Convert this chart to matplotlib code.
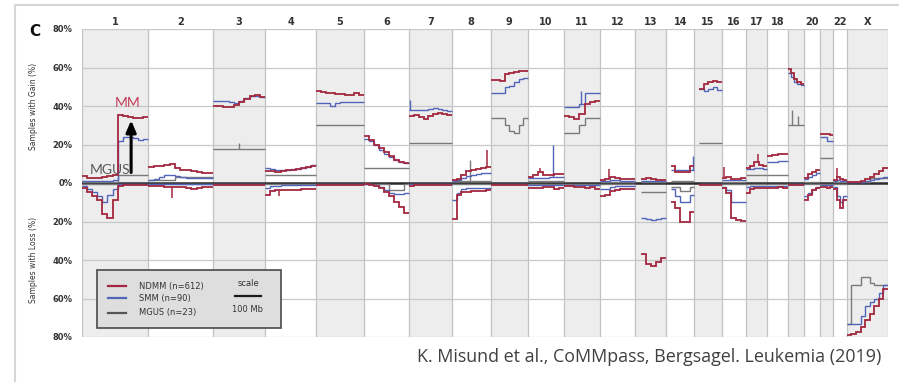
import numpy as np
import matplotlib
matplotlib.use("Agg")
import matplotlib.pyplot as plt
from matplotlib.patches import Rectangle
from matplotlib.lines import Line2D
from matplotlib.transforms import blended_transform_factory

# Chromosome sizes (hg19, Mb)
CHROM_NAMES = ['1', '2', '3', '4', '5', '6', '7', '8', '9', '10', '11', '12',
               '13', '14', '15', '16', '17', '18', '19', '20', '21', '22', 'X']
CHROM_LENGTHS_MB = [249.3, 243.2, 198.0, 191.2, 180.9, 171.1, 159.1, 146.4, 141.2,
                    135.5, 135.0, 133.9, 115.2, 107.3, 102.5, 90.4, 81.2, 78.1,
                    59.1, 63.0, 48.1, 51.3, 155.3]
TOP_LABELS = ['1', '2', '3', '4', '5', '6', '7', '8', '9', '10', '11', '12',
              '13', '14', '15', '16', '17', '18', '20', '22', 'X']

# Percent of samples with gain, evenly spaced segments along each chromosome
NDMM_GAIN = [
    [3.5, 2.5, 2.5, 2.5, 3, 3.5, 4, 35.5, 35, 34.5, 34, 34, 34.5],
    [8.5, 9, 9, 9.5, 10, 8, 7, 6.5, 6, 5.5, 5, 5],
    [40, 40, 39.5, 39.5, 40.5, 42, 43.5, 45, 45.5, 44.5],
    [6, 6, 5.5, 6, 6.5, 7, 7.5, 8, 8.5, 9],
    [48, 47.5, 47, 46.5, 46, 46, 45.5, 45.5, 46.5, 45.5],
    [24.5, 22.5, 20, 18, 16, 14, 12, 11, 10.5],
    [35, 35.5, 34.5, 33, 35, 36, 36.5, 36, 35.5],
    [1.5, 2, 4, 6, 7, 7.5, 8, 8.5],
    [53.5, 53.5, 53, 56.5, 57, 57.5, 58, 58],
    [3, 4, 5.5, 4, 4, 4.5, 4.5],
    [35, 34.5, 33.5, 36, 41, 42, 42.5],
    [1.5, 2, 3, 2.5, 2, 2, 2],
    [None, 2, 2.5, 2, 1.5, 1.5],
    [None, 9, 5.5, 5.5, 5.5, 9],
    [None, 49, 51.5, 52.5, 53, 52.5],
    [2.5, 3, 2, 2, 2.5],
    [8, 9, 11, 9.5, 9],
    [14, 14.5, 15, 15],
    [59, 57, 54, 52.5, 51.5],
    [2.5, 4.5, 5.5, 7],
    [25.5, 25.5, 25.5, 25],
    [1.5, 3, 2, 1.5],
    [0.5, 0.5, 0.5, 1, 2, 3, 4.5, 6, 8],
]
SMM_GAIN = [
    [1, 1, 1, 1, 1, 1, 1.5, 22, 24, 24, 23.5, 22.5, 23],
    [1.5, 2, 3, 4, 4, 3.5, 3, 2.5, 2.5, 2.5, 2.5, 2.5],
    [42.5, 42.5, 42.5, 42, 41.5, 42.5, 44, 45, 45, 44.5],
    [8, 7.5, 7, 7, 7, 7.5, 7.5, 8, 8.5, 9.5],
    [41.5, 41.5, 41.5, 40, 41.5, 42, 42, 42, 42, 42],
    [23, 22, 19.5, 17, 15, 13.5, 12, 11, 10.5],
    [38, 38, 38, 38, 38.5, 39, 38.5, 38, 37.5],
    [1, 1.5, 2.5, 3.5, 4, 4.5, 5, 5],
    [47, 47, 46.5, 50, 50.5, 52.5, 54, 54.5],
    [2.5, 2.5, 2.5, 2.5, 3, 3, 3],
    [39.5, 39.5, 39.5, 41, 47, 47, 47],
    [1, 1, 1.5, 1.5, 1, 1, 1],
    [None, 1, 1, 1, 1, 1],
    [None, 7, 6.5, 6.5, 6.5, 7],
    [None, 49, 48, 49, 50, 48.5],
    [1.5, 1.5, 1.5, 1.5, 1.5],
    [7.5, 7.5, 8, 8, 7.5],
    [11, 11, 11.5, 11.5],
    [57, 55, 52.5, 51.5, 51],
    [2, 3, 4, 5],
    [24, 24, 22, 22],
    [1, 1.5, 1, 1],
    [0.5, 0.5, 0.5, 0.5, 1, 1.5, 2, 2.5, 3],
]
MGUS_GAIN = [
    [0.5, 0.5, 0.5, 0.5, 0.5, 0.5, 0.5, 4, 4, 4, 4, 4, 4],
    [1.5, 1.5, 1.5, 1.5, 1.5, 3, 3, 3, 3, 3, 3, 3],
    [17.5],
    [4],
    [30],
    [8],
    [21],
    [1],
    [34, 34, 34, 30, 27, 26, 30, 34],
    [1],
    [26, 26, 26, 30, 34, 34, 34],
    [0.5],
    [None, 0.5, 0.5, 0.5, 0.5, 0.5],
    [None, 1, 1, 1, 1, 1],
    [None, 21, 21, 21, 21, 21],
    [0.5],
    [4],
    [4],
    [30],
    [0.5],
    [13],
    [0.5],
    [0.5, 0.5, 0.5, 0.5, 0.5, 2.5, 2.5, 2.5, 2.5],
]

# Percent of samples with loss
NDMM_LOSS = [
    [2.5, 4.5, 6.5, 9, 16, 18, 9, 1.5, 1, 1, 1, 1, 1],
    [1.5, 1.5, 1.5, 2, 2, 2, 2, 2.5, 3, 2.5, 2, 2],
    [1],
    [6, 4, 3.5, 3.5, 3.5, 3.5, 3.5, 3, 3, 3],
    [1],
    [0.5, 1, 1.5, 2.5, 4.5, 7, 10, 12.5, 15.5],
    [1.5, 1, 1, 1, 1, 1, 1, 1, 1],
    [18.5, 6, 4.5, 4.5, 4, 4, 4, 3.5],
    [1],
    [2.5, 2.5, 2.5, 2, 2, 3, 2.5],
    [1.5, 1.5, 2, 2, 2.5, 2, 3],
    [7, 6, 4, 3.5, 3, 3, 3],
    [None, 37, 42, 43, 41, 39],
    [None, 10, 13, 20, 20, 15],
    [None, 1, 1, 1, 1, 1],
    [2.5, 5, 18, 19, 19.5],
    [5, 3, 2.5, 2.5, 2.5],
    [2.5, 2.5, 2, 2.5],
    [1],
    [9, 6, 3.5, 2.5],
    [2, 2, 2.5, 2],
    [3, 9, 13, 9],
    [79, 78.5, 77.5, 75, 71, 68, 64, 60, 55],
]
SMM_LOSS = [
    [1.5, 3, 4.5, 7, 10, 6, 3, 0.5, 0.5, 0.5, 0.5, 0.5, 0.5],
    [0.5],
    [0.5],
    [2.5, 1.5, 1.5, 1, 1, 1, 1, 1, 1, 1],
    [0.5],
    [0.5, 0.5, 1, 2, 3.5, 5, 5.5, 5.5, 5],
    [0.5],
    [9, 5, 3, 2.5, 2.5, 2.5, 2.5, 2.5],
    [0.5],
    [1],
    [1],
    [3, 3, 2, 1.5, 1.5, 1.5, 1.5],
    [None, 18, 18.5, 19, 18.5, 18],
    [None, 3, 7, 10, 10, 6],
    [None, 0.5, 0.5, 0.5, 0.5, 0.5],
    [2, 3.5, 10, 10, 10],
    [2, 1.5, 1.5, 1.5, 1.5],
    [1.5],
    [0.5],
    [7, 5, 3, 2],
    [1],
    [2, 7, 10, 7],
    [73, 73, 73, 69, 64, 62, 60, 57, 53],
]
MGUS_LOSS = [
    [0.3], [0.3], [0.3], [0.3], [0.3],
    [0.3, 0.3, 0.3, 0.3, 0.3, 3.5, 3.5, 3.5, 0.3],
    [0.3], [0.3], [0.3], [0.3], [0.3], [0.3],
    [None, 4.5, 4.5, 4.5, 4.5, 4.5],
    [None, 2, 2, 4, 4, 2],
    [None, 0.3, 0.3, 0.3, 0.3, 0.3],
    [0.3], [0.3], [0.3], [0.3], [0.3], [0.3], [0.3],
    [73, 53, 53, 49, 49, 52, 53, 53, 53],
]

# Narrow focal peaks: (chromosome, position in Mb, percent)
NDMM_GAIN_PEAKS = [('8', 132, 17), ('10', 45, 8), ('12', 34, 7.5),
                   ('16', 8, 8.5), ('17', 45, 15), ('22', 15, 8)]
SMM_GAIN_PEAKS = [('7', 3, 43), ('10', 94, 20), ('11', 64, 48), ('14', 101, 14)]
MGUS_GAIN_PEAKS = [('3', 98, 21), ('8', 68, 12), ('19', 15, 38), ('19', 38, 35)]
NDMM_LOSS_PEAKS = [('2', 90, 8), ('4', 53, 7)]

COL_NDMM = '#a3283f'
COL_SMM = '#5064b8'
COL_MGUS = '#7a7a7a'

starts = np.concatenate([[0], np.cumsum(CHROM_LENGTHS_MB)[:-1]])
genome_len = float(np.sum(CHROM_LENGTHS_MB))

fig = plt.figure(figsize=(8.99, 3.82), dpi=100)
ax = fig.add_axes([82 / 899, 45 / 382, 806 / 899, 308 / 382])
ax.set_xlim(0, genome_len)
ax.set_ylim(-80, 80)

# alternating chromosome shading and boundaries
for i, (s, L) in enumerate(zip(starts, CHROM_LENGTHS_MB)):
    if i % 2 == 0:
        ax.axvspan(s, s + L, color='#ededed', lw=0, zorder=0)
for b in list(starts) + [genome_len]:
    ax.axvline(b, color='#c2c2c2', lw=0.9, zorder=1)
for yv in [-80, -60, -40, -20, 20, 40, 60, 80]:
    ax.axhline(yv, color='#c8c8c8', lw=0.9, zorder=1)
ax.axhline(0, color='#2b2b2b', lw=1.8, zorder=2)


def to_array(vals):
    return np.array([np.nan if v is None else v for v in vals], dtype=float)


def draw_series(series, sign, color, lw, z):
    for s, L, vals in zip(starts, CHROM_LENGTHS_MB, series):
        v = to_array(vals)
        edges = np.linspace(s, s + L, len(v) + 1)
        ok = np.isfinite(v)
        i = 0
        while i < len(v):
            if not ok[i]:
                i += 1
                continue
            j = i
            while j < len(v) and ok[j]:
                j += 1
            ax.stairs(sign * v[i:j], edges[i:j + 1], baseline=None,
                      color=color, lw=lw, zorder=z)
            i = j


def draw_peaks(series, peaks, sign, color, lw, z):
    for name, pos, val in peaks:
        k = CHROM_NAMES.index(name)
        v = to_array(series[k])
        idx = min(int(pos / CHROM_LENGTHS_MB[k] * len(v)), len(v) - 1)
        base = v[idx] if np.isfinite(v[idx]) else 0
        x = starts[k] + pos
        ax.plot([x, x], [sign * base, sign * val], color=color, lw=lw,
                zorder=z, solid_capstyle='butt')


draw_series(MGUS_GAIN, 1, COL_MGUS, 1.0, 3)
draw_series(MGUS_LOSS, -1, COL_MGUS, 1.0, 3)
draw_peaks(MGUS_GAIN, MGUS_GAIN_PEAKS, 1, COL_MGUS, 1.0, 3)
draw_series(SMM_GAIN, 1, COL_SMM, 1.0, 4)
draw_series(SMM_LOSS, -1, COL_SMM, 1.0, 4)
draw_peaks(SMM_GAIN, SMM_GAIN_PEAKS, 1, COL_SMM, 1.0, 4)
draw_series(NDMM_GAIN, 1, COL_NDMM, 1.3, 5)
draw_series(NDMM_LOSS, -1, COL_NDMM, 1.3, 5)
draw_peaks(NDMM_GAIN, NDMM_GAIN_PEAKS, 1, COL_NDMM, 1.1, 5)
draw_peaks(NDMM_LOSS, NDMM_LOSS_PEAKS, -1, COL_NDMM, 1.1, 5)

# axes decoration
for sp in ax.spines.values():
    sp.set_visible(False)
ax.set_xticks([])
yt = [-80, -60, -40, -20, 0, 20, 40, 60, 80]
ax.set_yticks(yt)
ax.set_yticklabels([f'{abs(v)}%' for v in yt], fontsize=6, color='#333333',
                   fontweight='bold')
ax.tick_params(axis='y', length=0, pad=7)

tb = blended_transform_factory(ax.transData, ax.transAxes)
for name in TOP_LABELS:
    k = CHROM_NAMES.index(name)
    ax.text(starts[k] + CHROM_LENGTHS_MB[k] / 2, 1.023, name, transform=tb,
            ha='center', va='center', fontsize=7, fontweight='bold',
            color='#333333')

fig.text(33 / 899, 1 - 106 / 382, 'Samples with Gain (%)', rotation=90,
         ha='center', va='center', fontsize=5.5, color='#333333')
fig.text(33 / 899, 1 - 260 / 382, 'Samples with Loss (%)', rotation=90,
         ha='center', va='center', fontsize=5.5, color='#333333')
fig.text(35 / 899, 1 - 32 / 382, 'C', ha='center', va='center', fontsize=11,
         fontweight='bold', color='#111111')

# MGUS -> MM annotation on chromosome 1q
ax.annotate('', xy=(185, 34), xytext=(185, 4),
            arrowprops=dict(arrowstyle='-|>,head_length=0.7,head_width=0.3',
                            color='black', lw=2.2), zorder=7)
ax.text(170, 41.5, 'MM', ha='center', va='center', fontsize=10,
        family='Lato', color='#c23d5a', zorder=7)
ax.text(105, 6.8, 'MGUS', ha='center', va='center', fontsize=10,
        family='Lato', color='#5a5a5a', zorder=7)

# legend box
ax.add_patch(Rectangle((15 / 806, 9 / 308), 184 / 806, 58 / 308,
                       transform=ax.transAxes, facecolor='#dedede',
                       edgecolor='#4a4a4a', lw=1.2, zorder=8))
entries = [('NDMM (n=612)', COL_NDMM, 51), ('SMM (n=90)', COL_SMM, 39),
           ('MGUS (n=23)', '#555555', 24)]
for label, col, yy in entries:
    ax.plot([26 / 806, 44 / 806], [yy / 308, yy / 308], transform=ax.transAxes,
            color=col, lw=1.6, zorder=9)
    ax.text(57 / 806, yy / 308, label, transform=ax.transAxes, ha='left',
            va='center', fontsize=6, color='#333333', zorder=9)
scale_mid = (248 - 82) / 806 * genome_len
ax.plot([scale_mid - 50, scale_mid + 50], [41 / 308, 41 / 308], transform=tb,
        color='#1a1a1a', lw=1.6, zorder=9)
ax.text(scale_mid, 53 / 308, 'scale', transform=tb, ha='center', va='center',
        fontsize=6, color='#333333', zorder=9)
ax.text(scale_mid, 28 / 308, '100 Mb', transform=tb, ha='center', va='center',
        fontsize=6, color='#333333', zorder=9)

# slide frame and citation
fig.add_artist(Line2D([15 / 899, 15 / 899], [0, 1 - 5 / 382],
                      transform=fig.transFigure, color='#d6d6d6', lw=1.5))
fig.add_artist(Line2D([15 / 899, 1], [1 - 5 / 382, 1 - 5 / 382],
                      transform=fig.transFigure, color='#d6d6d6', lw=1.5))
fig.text(417 / 899, 1 - 357 / 382,
         'K. Misund et al., CoMMpass, Bergsagel. Leukemia (2019)',
         ha='left', va='center', fontsize=12.9, family='Open Sans',
         color='#404040')

fig.savefig('out.png', dpi=100)
